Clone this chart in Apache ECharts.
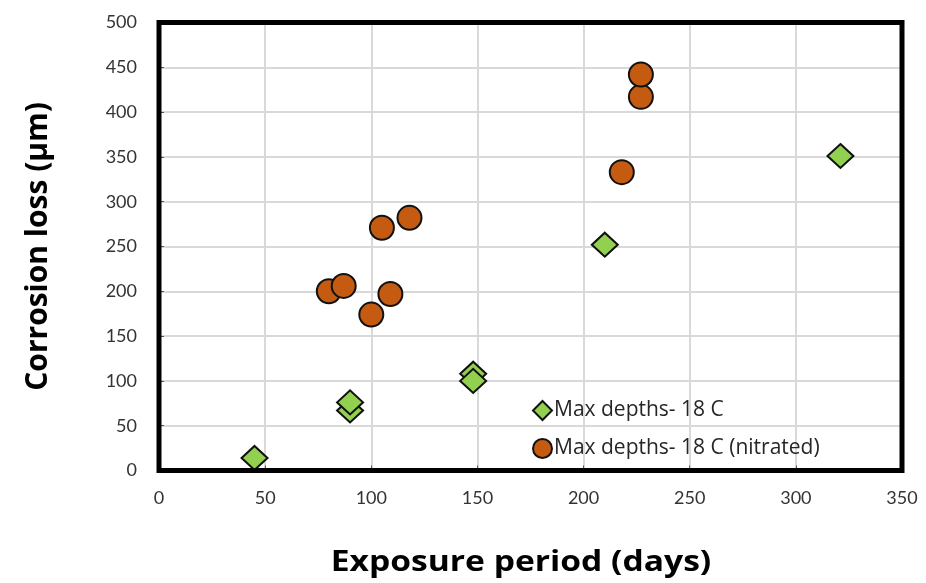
<!DOCTYPE html>
<html><head><meta charset="utf-8">
<script src="https://cdn.jsdelivr.net/npm/echarts@6/dist/echarts.min.js"></script>
<style>html,body{margin:0;padding:0;background:#fff}#c{width:926px;height:583px}</style>
</head><body><div id="c"></div>
<script>
const seriesNames = ['Max depths- 18 C', 'Max depths- 18 C (nitrated)'];
const plainData = [[45,14],[90,67],[90,76],[148,108],[148,100],[210,252],[321,351]];
const nitratedData = [[80,200],[87,206],[100,174],[109,197],[105,271],[118,282],[218,333],[227,417],[227,442]];
const xTitle = 'Exposure period (days)';
const yTitle = 'Corrosion loss (µm)';
const FONT = 'Lato, "Open Sans", sans-serif';
const TFONT = '"Open Sans", sans-serif';
const chart = echarts.init(document.getElementById('c'), null, {renderer:'canvas'});
chart.setOption({
  animation:false,
  backgroundColor:'#fff',
  textStyle:{fontFamily:FONT},
  grid:{left:159,right:24,top:22.5,bottom:112.5,show:true,borderColor:'#000',borderWidth:5,z:5},
  graphic:[{type:'text',x:521,y:563,scaleX:1.2,originX:0,originY:0,
    style:{text:xTitle,fontFamily:TFONT,fontSize:28,fontWeight:'bold',fill:'#000',align:'center',verticalAlign:'middle'}}],
  xAxis:{type:'value',min:0,max:350,interval:50,
    axisLine:{show:false},axisTick:{show:true,inside:true,length:5,lineStyle:{color:'#555',width:1}},
    axisLabel:{fontFamily:FONT,fontSize:18,color:'#333',margin:19},
    splitLine:{show:true,lineStyle:{color:'#d9d9d9',width:2}}},
  yAxis:{type:'value',min:0,max:500,interval:50,
    name:yTitle,nameLocation:'middle',nameGap:106,
    nameTextStyle:{fontFamily:TFONT,fontSize:30,fontWeight:'bold',color:'#000'},
    axisLine:{show:false},axisTick:{show:true,inside:true,length:5,lineStyle:{color:'#555',width:1}},
    axisLabel:{fontFamily:FONT,fontSize:18,color:'#333',margin:22},
    splitLine:{show:true,lineStyle:{color:'#d9d9d9',width:2}}},
  legend:{orient:'vertical',left:527,top:395,itemGap:17,itemWidth:19,itemHeight:19,
    textStyle:{fontFamily:TFONT,fontSize:21,color:'#262626',padding:[0,0,0,-3]},
    data:[{name:seriesNames[0],icon:'diamond',itemStyle:{borderWidth:2}},{name:seriesNames[1],icon:'circle'}]},
  series:[
    {name:seriesNames[0],type:'scatter',symbol:'diamond',symbolSize:[26,24],data:plainData,
      itemStyle:{color:'#92d050',borderColor:'#111',borderWidth:2,opacity:1},z:3},
    {name:seriesNames[1],type:'scatter',symbol:'circle',symbolSize:[24,24],data:nitratedData,
      itemStyle:{color:'#c55a11',borderColor:'#111',borderWidth:2,opacity:1},z:3}
  ]
});
</script></body></html>
